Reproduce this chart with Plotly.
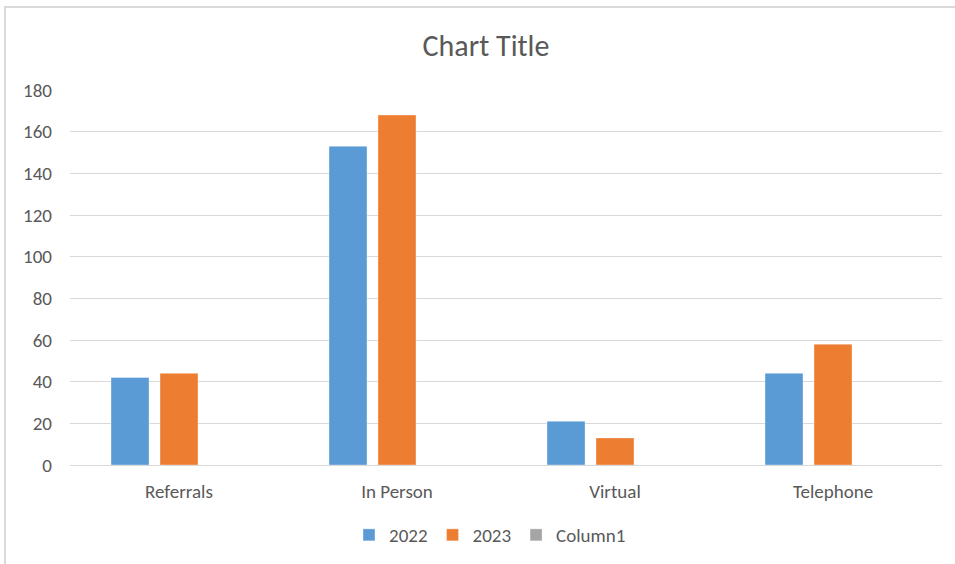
import plotly.graph_objects as go

categories = ["Referrals", "In Person", "Virtual", "Telephone"]
series_names = ["2022", "2023", "Column1"]
values_2022 = [42, 153, 21, 44]
values_2023 = [44, 168, 13, 58]
values_col1 = [None, None, None, None]
colors = ["#5B9BD5", "#ED7D31", "#A5A5A5"]
y_ticks = [0, 20, 40, 60, 80, 100, 120, 140, 160, 180]

FONT = "Carlito, Lato, Open Sans, sans-serif"
TXT = "#595959"

fig = go.Figure()
for name, vals, col in zip(series_names, [values_2022, values_2023, values_col1], colors):
    fig.add_trace(go.Bar(
        x=categories, y=vals, name=name,
        marker=dict(color=col, line=dict(color="rgba(255,255,255,0.35)", width=1)),
    ))

L, R, T, B = 70, 13, 90, 99
W, H = 955, 564
pw, ph = W - L - R, H - T - B

def px_x(p):
    return (p - L) / pw

def px_y(p):
    return (H - B - p) / ph

fig.update_layout(
    width=W, height=H,
    margin=dict(l=L, r=R, t=T, b=B, autoexpand=False),
    paper_bgcolor="white", plot_bgcolor="white",
    barmode="group", bargap=0.326, bargroupgap=0.224,
    font=dict(family=FONT, color=TXT, size=19),
    title=dict(text="Chart Title", x=486 / W, xref="container", xanchor="center",
               y=1 - 45 / H, yref="container", yanchor="middle",
               font=dict(size=30, color=TXT, family=FONT)),
    showlegend=True,
    legend=dict(orientation="h", x=px_x(490), xanchor="center", y=px_y(535), yanchor="middle",
                font=dict(size=19, color=TXT, family=FONT), itemwidth=30,
                traceorder="normal"),
    xaxis=dict(showgrid=False, showline=True, linecolor="#D9D9D9", linewidth=1,
               ticks="", tickfont=dict(size=19, color=TXT), ticklabelstandoff=9,
               automargin=False, fixedrange=True),
    yaxis=dict(range=[0, 180], tickvals=y_ticks, showgrid=True, gridcolor="#D9D9D9",
               gridwidth=1, zeroline=False, showline=False, ticks="",
               tickfont=dict(size=19, color=TXT), ticklabelstandoff=17,
               automargin=False, fixedrange=True),
    shapes=[dict(type="rect", xref="paper", yref="paper",
                 x0=px_x(5), x1=px_x(1200), y0=px_y(900), y1=px_y(7),
                 line=dict(color="#D9D9D9", width=2), fillcolor="rgba(0,0,0,0)", layer="below")],
)

fig.write_html("out.html")
